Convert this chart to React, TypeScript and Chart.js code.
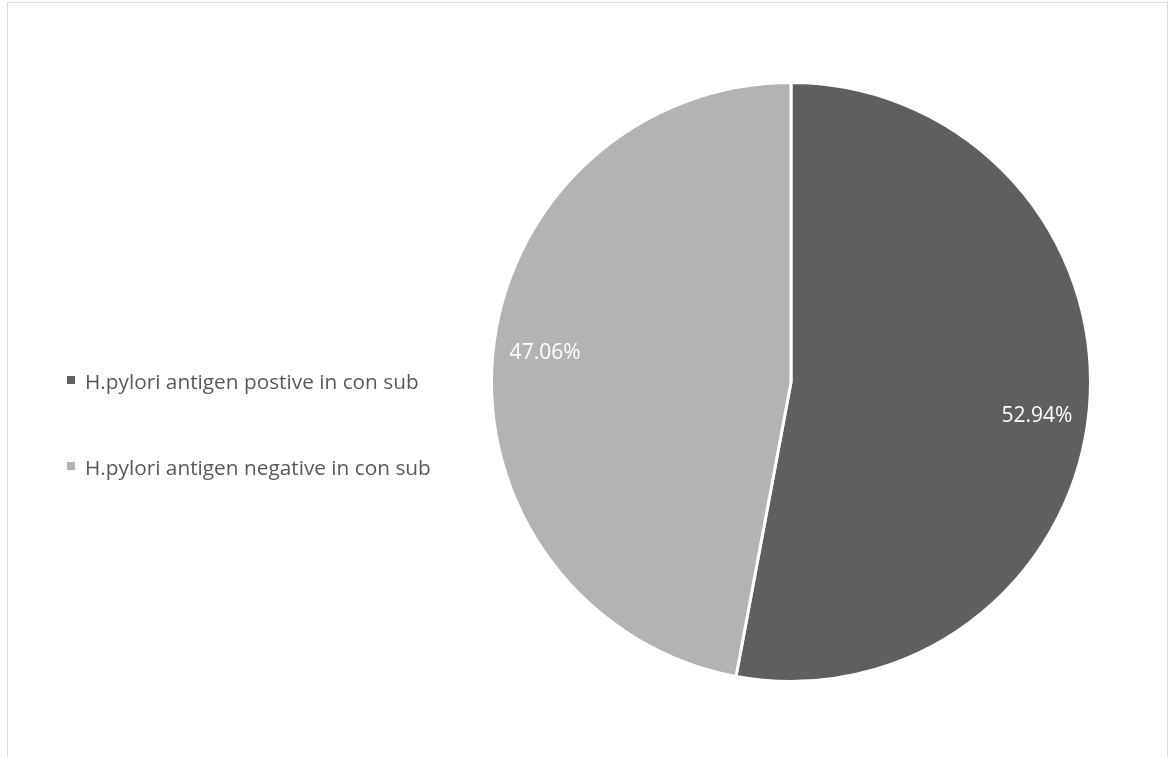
import React, { useEffect, useRef } from "react";
import { Chart, registerables } from "chart.js";

Chart.register(...registerables);

const categories = [
  "H.pylori antigen postive in con sub",
  "H.pylori antigen negative in con sub",
];
const values = [52.94, 47.06];
const sliceColors = ["#5f5f5f", "#b3b3b3"];

const FONT = "'Open Sans', 'DejaVu Sans', sans-serif";

const labelPlugin = {
  id: "insideEndLabels",
  afterDatasetsDraw(chart: any) {
    const ctx = chart.ctx;
    const meta = chart.getDatasetMeta(0);
    ctx.save();
    ctx.font = `21px ${FONT}`;
    ctx.fillStyle = "#ffffff";
    ctx.textAlign = "center";
    ctx.textBaseline = "middle";
    meta.data.forEach((arc: any, i: number) => {
      const { x, y, startAngle, endAngle, outerRadius } = arc.getProps(
        ["x", "y", "startAngle", "endAngle", "outerRadius"],
        true
      );
      const text = values[i].toFixed(2) + "%";
      const w = ctx.measureText(text).width;
      const h = 22;
      const mid = (startAngle + endAngle) / 2 + 0.035;
      const ux = Math.cos(mid);
      const uy = Math.sin(mid);
      const d = outerRadius - 15 - (Math.abs(ux) * w) / 2 - (Math.abs(uy) * h) / 2;
      ctx.fillText(text, x + d * ux, y + d * uy + 3);
    });
    ctx.restore();
  },
};

export default function App() {
  const canvasRef = useRef<HTMLCanvasElement | null>(null);

  useEffect(() => {
    if (!canvasRef.current) return;
    const chart = new Chart(canvasRef.current, {
      type: "pie",
      data: {
        labels: categories,
        datasets: [
          {
            data: values,
            backgroundColor: sliceColors,
            borderColor: "#ffffff",
            borderWidth: 3,
          },
        ],
      },
      options: {
        responsive: false,
        animation: false,
        devicePixelRatio: 1,
        radius: 299.5,
        layout: { padding: { left: 414, right: 0, top: 7, bottom: 0 } },
        plugins: {
          legend: { display: false },
          tooltip: { enabled: false },
        },
      },
      plugins: [labelPlugin],
    });
    return () => chart.destroy();
  }, []);

  return (
    <div style={{ position: "absolute", left: 0, top: 0, width: 1168, height: 757, overflow: "hidden", background: "#ffffff" }}>
      <div
        style={{
          position: "absolute",
          left: 7,
          top: 2,
          width: 1161,
          height: 820,
          boxSizing: "border-box",
          border: "1px solid #d9d9d9",
        }}
      />
      <canvas
        ref={canvasRef}
        width={1168}
        height={757}
        style={{ position: "absolute", left: 0, top: 0, display: "block" }}
      />
      {categories.map((c, i) => (
        <div
          key={c}
          style={{
            position: "absolute",
            left: 67,
            top: 366 + i * 86,
            height: 30,
            display: "flex",
            alignItems: "center",
            fontFamily: FONT,
            fontSize: 20.8,
            color: "#595959",
            whiteSpace: "nowrap",
          }}
        >
          <span
            style={{
              display: "inline-block",
              width: 8,
              height: 8,
              background: sliceColors[i],
              marginRight: 10,
              marginTop: -2,
            }}
          />
          <span>{c}</span>
        </div>
      ))}
    </div>
  );
}
